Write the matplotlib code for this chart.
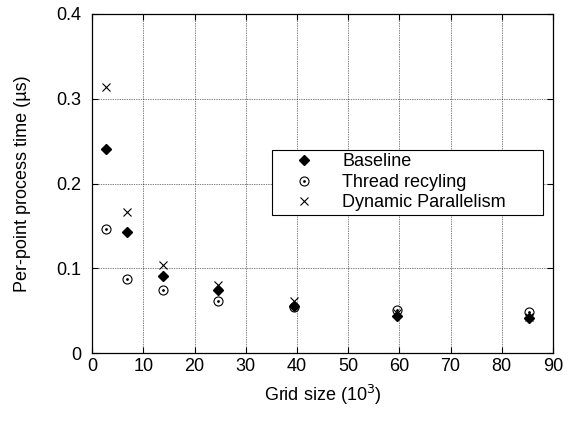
import matplotlib
matplotlib.use("Agg")
import matplotlib.pyplot as plt
from matplotlib.legend_handler import HandlerTuple

plt.rcParams["font.family"] = ["Liberation Sans", "DejaVu Sans"]
plt.rcParams["font.size"] = 13

grid_size = [2.7, 6.9, 13.9, 24.5, 39.4, 59.5, 85.3]
baseline = [0.241, 0.143, 0.091, 0.075, 0.056, 0.044, 0.041]
thread_recycling = [0.146, 0.087, 0.075, 0.062, 0.054, 0.051, 0.048]
dynamic_parallelism = [0.314, 0.166, 0.104, 0.080, 0.062, 0.047, 0.043]

fig = plt.figure(figsize=(5.76, 4.23), dpi=100)
ax = fig.add_axes([0.16, 0.165, 0.8, 0.802])

b, = ax.plot(grid_size, baseline, linestyle="none", marker="D",
             color="black", markersize=5.5, zorder=3)
c1, = ax.plot(grid_size, thread_recycling, linestyle="none", marker="o",
              markerfacecolor="none", markeredgecolor="black",
              markersize=6.5, markeredgewidth=0.8, zorder=3)
c2, = ax.plot(grid_size, thread_recycling, linestyle="none", marker=".",
              color="black", markersize=2, zorder=3)
d, = ax.plot(grid_size, dynamic_parallelism, linestyle="none", marker="x",
             color="black", markersize=6, markeredgewidth=0.8, zorder=3)

ax.set_xlim(0, 90)
ax.set_ylim(0, 0.4)
ax.set_xticks(range(0, 91, 10))
ax.set_yticks([0, 0.1, 0.2, 0.3, 0.4])
ax.set_yticklabels(["0", "0.1", "0.2", "0.3", "0.4"])
ax.grid(True, linestyle=(0, (1, 1.5)), color="black", linewidth=0.5)
ax.tick_params(direction="in", length=4, width=0.8, top=True, right=True)
ax.tick_params(axis="y", pad=8)
for s in ax.spines.values():
    s.set_linewidth(0.9)

ax.set_xlabel("Grid size (10$^3$)", labelpad=6)
ax.set_ylabel("Per-point process time (µs)", labelpad=18)

leg = ax.legend([b, (c1, c2), d],
                ["Baseline", "Thread recyling", "Dynamic Parallelism"],
                handler_map={tuple: HandlerTuple(ndivide=1)},
                loc="upper left", bbox_to_anchor=(0.39, 0.402, 0.588, 0.198),
                mode="expand", borderaxespad=0,
                fancybox=False, framealpha=1, edgecolor="black",
                handlelength=3.2, handletextpad=0.5, borderpad=0.2,
                labelspacing=0.2, fontsize=13)
leg.get_frame().set_linewidth(0.8)

fig.savefig("out.png", dpi=100)
